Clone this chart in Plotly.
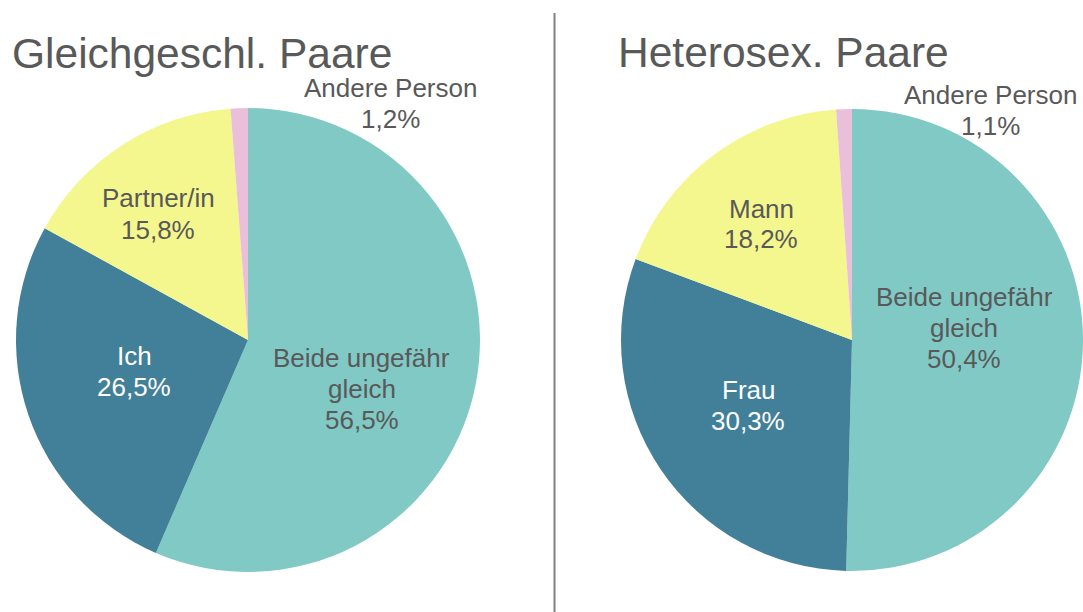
import plotly.graph_objects as go

W, H = 1083, 612

# Data
titles = ["Gleichgeschl. Paare", "Heterosex. Paare"]
labels_left = ["Beide ungefähr gleich", "Ich", "Partner/in", "Andere Person"]
values_left = [56.5, 26.5, 15.8, 1.2]
labels_right = ["Beide ungefähr gleich", "Frau", "Mann", "Andere Person"]
values_right = [50.4, 30.3, 18.2, 1.1]

# Styles
colors = ["#80C9C5", "#427F99", "#F4F68E", "#EABFDA"]
text_colors = ["#595959", "#FFFFFF", "#595959", "#595959"]
FONT = "Liberation Sans, Arial, sans-serif"
GRAY = "#595959"
LABEL_SIZE = 26
LINE_GAP = 31

# label positions (pixels): x centre, y centre of first line
pos_left = [(362, 357.5), (134, 356), (158, 198.5), (390, 88)]
pos_right = [(964, 297), (748, 390), (761, 208.5), (990, 95)]


def px(x):
    return x / W


def py(y):
    return 1 - y / H


def fmt(v):
    return f"{v:.1f}".replace(".", ",") + "%"


def split_label(label):
    if "ungefähr " in label:
        a, b = label.split("ungefähr ")
        return [a + "ungefähr", b]
    return [label]


fig = go.Figure()
for labels, values, title, xdom in [
    (labels_left, values_left, titles[0], [px(16), px(480)]),
    (labels_right, values_right, titles[1], [px(621), 1.0]),
]:
    fig.add_trace(go.Pie(
        labels=labels, values=values, sort=False, direction="clockwise",
        rotation=0, textinfo="none",
        marker=dict(colors=colors, line=dict(width=0)),
        domain=dict(x=xdom, y=[py(572), py(108)]), showlegend=False,
        name=title,
    ))

annotations = []
for labels, values, pos in [(labels_left, values_left, pos_left),
                            (labels_right, values_right, pos_right)]:
    for i, (lab, val) in enumerate(zip(labels, values)):
        x, y0 = pos[i]
        lines = split_label(lab) + [fmt(val)]
        for k, line in enumerate(lines):
            annotations.append(dict(
                x=px(x), y=py(y0 + k * LINE_GAP), xref="paper", yref="paper",
                text=line, showarrow=False,
                xanchor="center", yanchor="middle", align="center",
                font=dict(family=FONT, size=LABEL_SIZE, color=text_colors[i]),
            ))

for title, (x, y) in zip(titles, [(10, 53), (616, 52)]):
    annotations.append(dict(
        x=px(x), y=py(y), xref="paper", yref="paper", text=title,
        showarrow=False, xanchor="left", yanchor="middle",
        font=dict(family=FONT, size=42.5, color=GRAY),
    ))

fig.update_layout(
    width=W, height=H, margin=dict(l=0, r=0, t=0, b=0),
    paper_bgcolor="white", plot_bgcolor="white",
    annotations=annotations,
    shapes=[dict(type="line", xref="paper", yref="paper",
                 x0=px(554.5), x1=px(554.5), y0=py(13), y1=0,
                 line=dict(color="#808080", width=2))],
)

fig.write_html(
    "out.html",
    config={"displayModeBar": False},
    post_script="document.body.style.margin='0';document.body.style.overflow='hidden';",
)
